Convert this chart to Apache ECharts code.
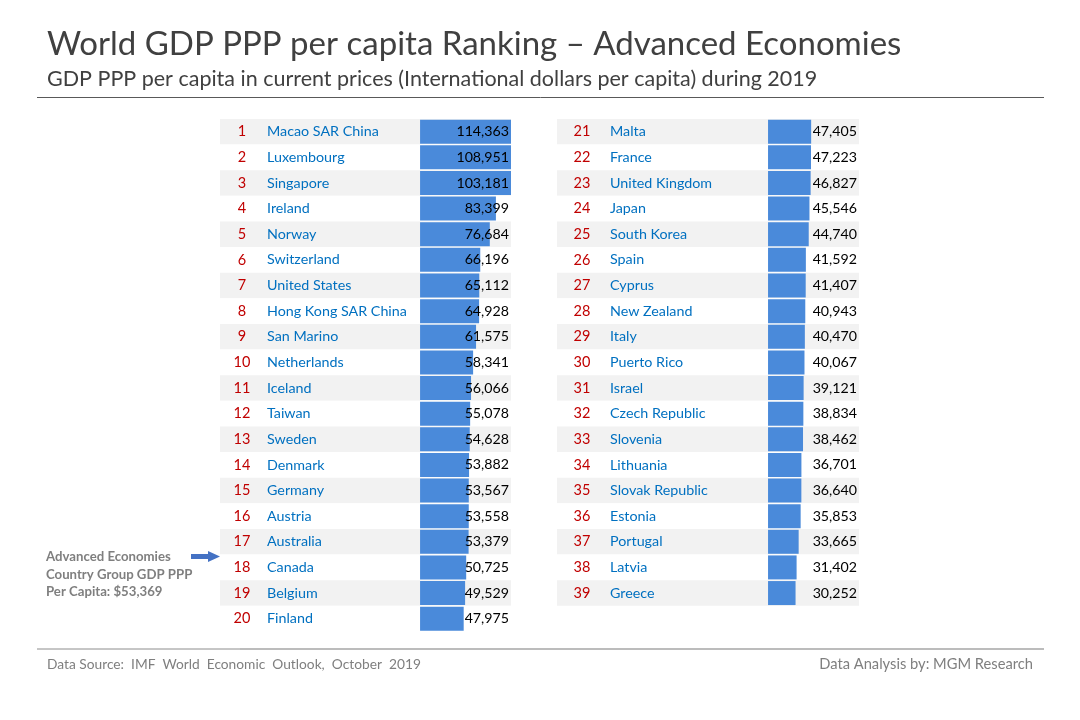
<!DOCTYPE html>
<html>
<head>
<meta charset="utf-8">
<title>World GDP PPP per capita Ranking</title>
<script src="https://cdn.jsdelivr.net/npm/echarts@6/dist/echarts.min.js"></script>
<style>
    html, body { margin: 0; padding: 0; background: #fff; }
    #chart { width: 1080px; height: 720px; }
</style>
</head>
<body>
<div id="chart"></div>
<script>
const leftCountries = ['Macao SAR China', 'Luxembourg', 'Singapore', 'Ireland', 'Norway', 'Switzerland', 'United States',
    'Hong Kong SAR China', 'San Marino', 'Netherlands', 'Iceland', 'Taiwan', 'Sweden', 'Denmark', 'Germany', 'Austria',
    'Australia', 'Canada', 'Belgium', 'Finland'];
const leftValues = [114363, 108951, 103181, 83399, 76684, 66196, 65112, 64928, 61575, 58341, 56066, 55078, 54628, 53882,
    53567, 53558, 53379, 50725, 49529, 47975];
const rightCountries = ['Malta', 'France', 'United Kingdom', 'Japan', 'South Korea', 'Spain', 'Cyprus', 'New Zealand',
    'Italy', 'Puerto Rico', 'Israel', 'Czech Republic', 'Slovenia', 'Lithuania', 'Slovak Republic', 'Estonia', 'Portugal',
    'Latvia', 'Greece'];
const rightValues = [47405, 47223, 46827, 45546, 44740, 41592, 41407, 40943, 40470, 40067, 39121, 38834, 38462, 36701,
    36640, 35853, 33665, 31402, 30252];

const FONT = 'Lato, "Open Sans", sans-serif';
const ROW_HEIGHT = 25.63;
const BAR_MAX = 100000;

const chart = echarts.init(document.getElementById('chart'));

// one table: names + stripes on the left axis, values on the right axis above the bars
function buildTable(index, rankStart, countries, values, box) {
    const rowLabel = (name, i) => `{r|${i + rankStart}}{c|${name}}`;
    return {
        grid: { left: box.left, top: 118.9, width: box.width, height: ROW_HEIGHT * countries.length, containLabel: false },
        xAxis: { gridIndex: index, type: 'value', show: false, min: box.min, max: BAR_MAX, splitLine: { show: false } },
        yAxis: [
            {
                gridIndex: index,
                type: 'category',
                inverse: true,
                data: countries,
                axisLine: { show: false },
                axisTick: { show: false },
                splitLine: { show: false },
                splitArea: { show: true, areaStyle: { color: ['#f2f2f2', '#ffffff'] } },
                axisLabel: {
                    inside: true,
                    interval: 0,
                    margin: 0,
                    formatter: rowLabel,
                    rich: {
                        r: { width: box.rankWidth, align: 'center', color: '#c00000', fontFamily: FONT, fontSize: 14.5 },
                        c: { padding: [0, 0, 0, box.nameGap], color: '#0070c0', fontFamily: FONT, fontSize: 14.3 }
                    }
                }
            },
            {
                gridIndex: index,
                type: 'category',
                inverse: true,
                position: 'right',
                z: 5,
                data: values.map(v => v.toLocaleString('en-US')),
                axisLine: { show: false },
                axisTick: { show: false },
                splitLine: { show: false },
                axisLabel: { inside: true, interval: 0, margin: 2, color: '#000000', fontFamily: FONT, fontSize: 14.2 }
            }
        ],
        series: {
            type: 'bar',
            xAxisIndex: index,
            yAxisIndex: index * 2,
            data: values,
            barWidth: 24,
            silent: true,
            itemStyle: { color: '#4a8ada' }
        }
    };
}

const leftTable = buildTable(0, 1, leftCountries, leftValues,
    { left: 220, width: 291, min: -220000, rankWidth: 44, nameGap: 3 });
const rightTable = buildTable(1, 21, rightCountries, rightValues,
    { left: 557, width: 302, min: -232000, rankWidth: 50, nameGap: 3 });

const noteStyle = { fontFamily: FONT, fontSize: 13.2, fontWeight: 'bold', fill: '#7f7f7f' };

chart.setOption({
    backgroundColor: '#ffffff',
    animation: false,
    title: [
        {
            text: 'World GDP PPP per capita Ranking – Advanced Economies',
            left: 47, top: 28, padding: 0,
            textStyle: { fontFamily: FONT, fontSize: 33, fontWeight: 'normal', color: '#404040' }
        },
        {
            text: 'GDP PPP per capita in current prices (International dollars per capita) during 2019',
            left: 47, top: 68, padding: 0,
            textStyle: { fontFamily: FONT, fontSize: 21.5, fontWeight: 'normal', color: '#404040' }
        }
    ],
    grid: [leftTable.grid, rightTable.grid],
    xAxis: [leftTable.xAxis, rightTable.xAxis],
    yAxis: [...leftTable.yAxis, ...rightTable.yAxis],
    series: [leftTable.series, rightTable.series],
    graphic: [
        { type: 'line', shape: { x1: 37, y1: 97.5, x2: 1044, y2: 97.5 }, style: { stroke: '#595959', lineWidth: 1 } },
        { type: 'line', shape: { x1: 240, y1: 649, x2: 1044, y2: 649 }, style: { stroke: '#a6a6a6', lineWidth: 1.3 } },
        { type: 'line', shape: { x1: 37, y1: 649, x2: 240, y2: 649 }, style: { stroke: '#8c8c8c', lineWidth: 1 } },
        { type: 'text', x: 46, y: 550, style: { ...noteStyle, text: 'Advanced Economies' } },
        { type: 'text', x: 46, y: 568, style: { ...noteStyle, text: 'Country Group GDP PPP' } },
        { type: 'text', x: 46, y: 585, style: { ...noteStyle, text: 'Per Capita: $53,369' } },
        {
            type: 'polygon',
            shape: { points: [[191, 554], [208, 554], [208, 551], [220, 556.5], [208, 562], [208, 559], [191, 559]] },
            style: { fill: '#4472c4' }
        },
        {
            type: 'text', x: 47, y: 658,
            style: { text: 'Data Source:  IMF  World  Economic  Outlook,  October  2019', fontFamily: FONT, fontSize: 13.75, fill: '#7f7f7f' }
        },
        {
            type: 'text', x: 1033, y: 656.5,
            style: { text: 'Data Analysis by: MGM Research', align: 'right', fontFamily: FONT, fontSize: 14.7, fill: '#7f7f7f' }
        }
    ]
});
</script>
</body>
</html>
